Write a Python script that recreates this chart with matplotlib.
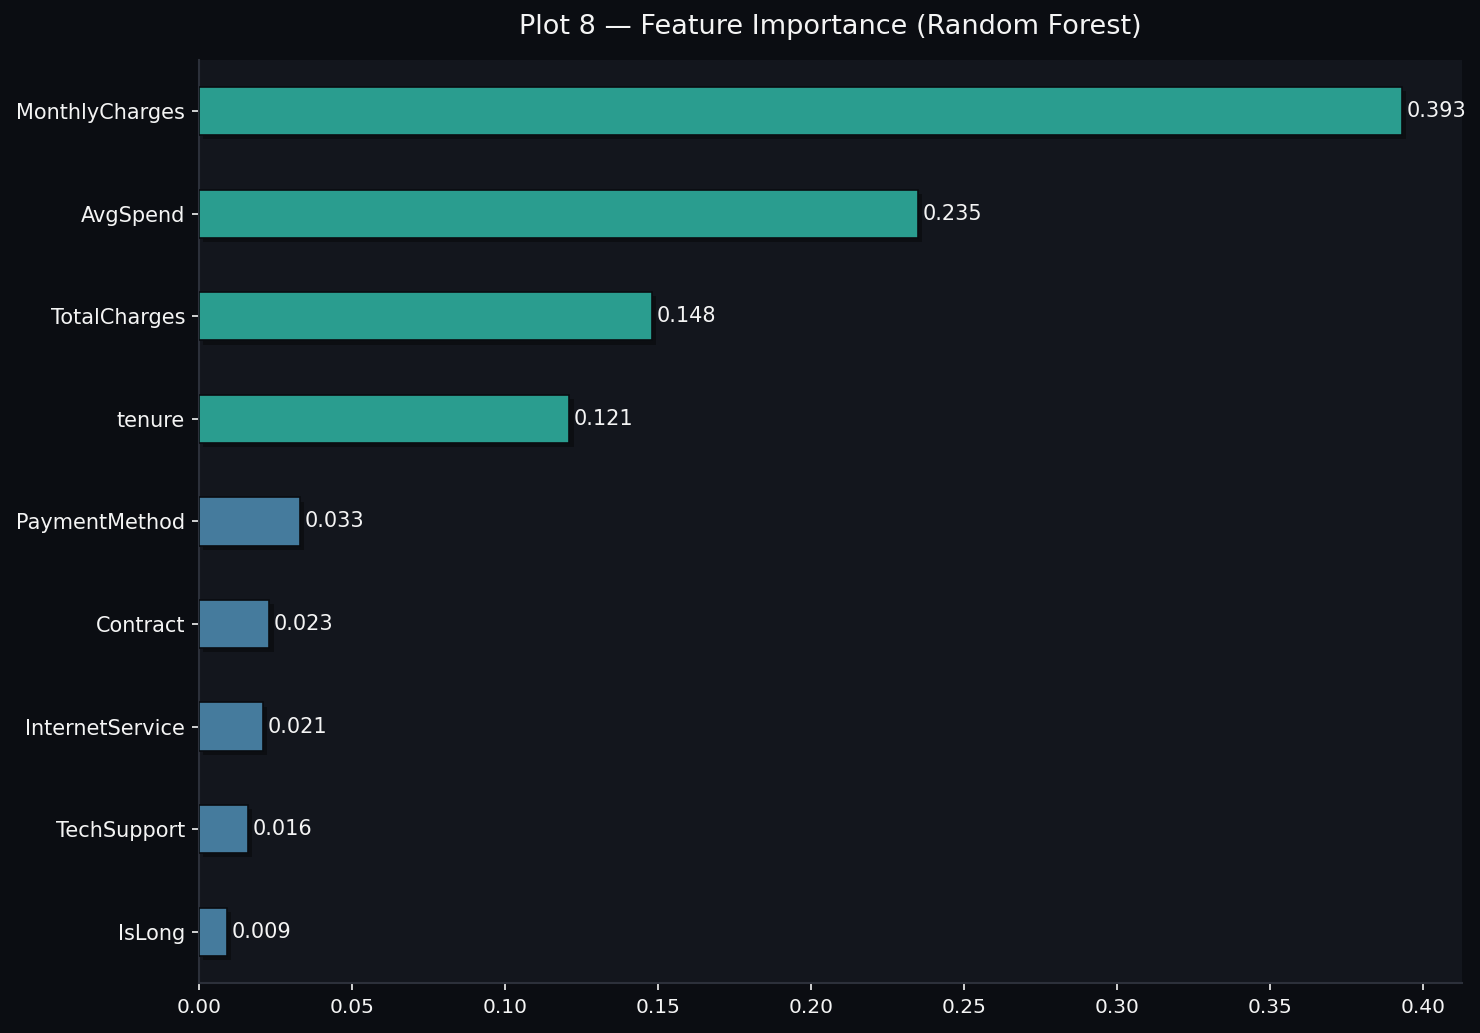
import matplotlib
matplotlib.use("Agg")
import matplotlib.pyplot as plt
import matplotlib.patheffects as pe

features = ["MonthlyCharges", "AvgSpend", "TotalCharges", "tenure", "PaymentMethod",
            "Contract", "InternetService", "TechSupport", "IsLong"]
importances = [0.393, 0.235, 0.148, 0.121, 0.033, 0.023, 0.021, 0.016, 0.009]
top_n = 4

FIG_BG = "#0b0d12"
AX_BG = "#13161d"
TEAL = "#2a9d8f"
BLUE = "#457b9d"
TXT = "#f4f4f4"

fig = plt.figure(figsize=(14.8, 10.33), dpi=100, facecolor=FIG_BG)
ax = fig.add_axes([0.1345, 0.0484, 0.8533, 0.8936])
ax.set_facecolor(AX_BG)

colors = [TEAL if i < top_n else BLUE for i in range(len(features))]
ypos = list(range(len(features)))
bars = ax.barh(ypos, importances, height=0.47, color=colors, edgecolor="#0a0c10",
               linewidth=1.2, zorder=3)
for b in bars:
    b.set_path_effects([pe.SimplePatchShadow(offset=(3, -3), shadow_rgbFace="black", alpha=0.35),
                        pe.Normal()])

for y, v in zip(ypos, importances):
    ax.text(v + 0.0015, y, f"{v:.3f}", va="center", ha="left", color=TXT, fontsize=15, zorder=4)

ax.set_yticks(ypos)
ax.set_yticklabels(features)
ax.set_ylim(len(features) - 0.5, -0.5)
ax.set_xlim(0, max(importances) * 1.05)
ax.set_xticks([0.0, 0.05, 0.10, 0.15, 0.20, 0.25, 0.30, 0.35, 0.40])
ax.set_xticklabels([f"{t:.2f}" for t in ax.get_xticks()])

ax.tick_params(axis="both", colors=TXT, length=5, width=1.2)
ax.tick_params(axis="y", labelsize=15, pad=5)
ax.tick_params(axis="x", labelsize=14.5, pad=6)
for s in ["top", "right"]:
    ax.spines[s].set_visible(False)
for s in ["left", "bottom"]:
    ax.spines[s].set_color("#2c303a")
    ax.spines[s].set_linewidth(1.5)

ax.set_title("Plot 8 — Feature Importance (Random Forest)", color=TXT, fontsize=19.5, pad=19)

fig.savefig("out.png", dpi=100, facecolor=FIG_BG)
